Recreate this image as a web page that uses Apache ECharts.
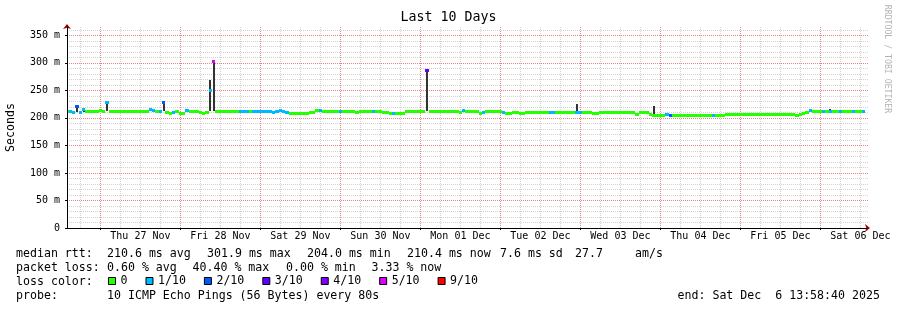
<!DOCTYPE html>
<html><head><meta charset="utf-8">
<script src="https://cdn.jsdelivr.net/npm/echarts@6/dist/echarts.min.js"></script>
<style>html,body{margin:0;padding:0;background:#fff}#c{width:897px;height:310px}</style>
</head><body><div id="c"></div>
<script>
// Time axis in hours since Wed 26 Nov 00:00
const startHour = 13.977778;   // Wed 26 Nov 13:58:40
const endHour = 253.977778;    // Sat 06 Dec 13:58:40
const firstPointHour = 14;     // one consolidated point per hour
const yMax = 365;

// median rtt (ms), one value per hour
const median = [
  212,211,209,220,209,215,212,212,212,212,
  213,212,228,212,212,212,212,212,212,212,
  212,212,212,212,212,216,213,212,212,227,
  209,208,210,211,208,208,214,211,211,211,
  209,208,209,249,302,212,212,212,212,212,
  212,212,212,212,212,212,212,212,211,212,
  212,212,209,212,213,212,209,208,208,208,
  208,208,208,209,210,213,214,212,212,212,
  212,212,212,212,212,212,212,210,212,212,
  212,212,212,212,212,210,210,208,208,208,
  208,208,211,212,212,212,212,212,286,212,
  212,212,212,212,212,212,212,212,210,213,
  212,212,212,212,208,210,212,212,212,212,
  212,210,208,208,210,210,208,208,210,210,
  210,210,210,210,210,210,210,210,210,210,
  210,210,210,210,210,210,210,210,208,208,
  210,210,210,210,210,210,210,210,210,210,
  210,206,210,210,210,206,205,205,205,205,
  206,205,204,204,204,205,205,205,205,205,
  205,205,205,205,205,204,204,204,206,206,
  206,206,206,206,206,206,206,206,206,206,
  206,206,206,206,206,206,206,206,206,204,
  206,208,210,213,212,212,212,212,212,212,
  212,212,212,212,212,212,212,212,212,211
];
// lost pings out of 10, one value per hour
const loss = [
  0,1,1,2,1,1,0,0,0,0,
  0,0,1,0,0,0,0,0,0,0,
  0,0,0,0,0,1,1,0,1,2,
  0,0,1,0,0,0,1,0,0,0,
  0,0,0,1,5,0,0,0,0,0,
  0,0,1,1,1,0,1,1,1,1,
  1,1,1,1,1,1,1,0,0,0,
  0,0,0,0,0,0,1,0,0,0,
  0,0,1,0,0,0,0,0,0,0,
  0,0,1,0,0,0,0,0,1,0,
  0,0,0,0,0,0,0,0,3,0,
  0,0,0,0,0,0,0,0,0,1,
  0,0,0,0,0,1,0,0,0,0,
  0,1,0,0,0,0,0,0,0,0,
  0,0,0,0,0,1,1,0,0,0,
  0,0,0,1,1,0,0,0,0,0,
  0,0,0,0,0,0,0,0,0,0,
  0,0,0,0,0,0,0,0,0,0,
  1,2,0,0,0,0,0,0,0,0,
  0,0,0,0,1,0,0,0,0,0,
  0,0,0,0,0,0,0,0,0,0,
  0,0,0,0,0,0,0,0,0,0,
  0,0,0,1,0,0,0,1,0,1,
  0,0,1,0,0,0,1,0,0,1
];
// smoke (ping spread) where visible
const smokeHour = [17, 19, 26, 43, 57, 58, 89, 122, 167, 190, 243];
const smokeLow  = [211, 210, 212, 212, 212, 212, 212, 212, 211, 205, 212];
const smokeHigh = [220, 216, 228, 227, 268, 302, 215, 287, 225, 221, 216];

const lossLevels = [0, 1, 2, 3, 4, 5, 9];
const lossNames = ['0', '1/10', '2/10', '3/10', '4/10', '5/10', '9/10'];
const lossColors = ['#26ff00', '#00b8ff', '#0059ff', '#5e00ff', '#7e00ff', '#dd00ff', '#ff0000'];

const dayLabelHours = [36, 60, 84, 108, 132, 156, 180, 204, 228, 252];
const dayLabels = ['Thu 27 Nov', 'Fri 28 Nov', 'Sat 29 Nov', 'Sun 30 Nov', 'Mon 01 Dec',
                   'Tue 02 Dec', 'Wed 03 Dec', 'Thu 04 Dec', 'Fri 05 Dec', 'Sat 06 Dec'];
const midnightHours = [24, 48, 72, 96, 120, 144, 168, 192, 216, 240];
const yLabelValues = [0, 50, 100, 150, 200, 250, 300, 350];
const yLabels = ['0', '50 m', '100 m', '150 m', '200 m', '250 m', '300 m', '350 m'];

const statsRtt = ['median rtt:', '210.6 ms avg', '301.9 ms max', '204.0 ms min', '210.4 ms now', '7.6 ms sd', '27.7', 'am/s'];
const statsLoss = ['packet loss:', '0.60 % avg', '40.40 % max', '0.00 % min', '3.33 % now'];
const probeText = ['probe:', '10 ICMP Echo Pings (56 Bytes) every 80s', 'end: Sat Dec  6 13:58:40 2025'];

// ---------- build ----------
const MONO = '"DejaVu Sans Mono", monospace';
const MAJOR = '#e88484', MINOR = '#d2d2d2';
const vGridHours = [];
for (let h = 18; h < endHour; h += 6) vGridHours.push([h, h % 24 === 0 ? 1 : 0]);
const hGridValues = [];
for (let v = 10; v < yMax; v += 10) hGridValues.push([v, v % 50 === 0 ? 1 : 0]);

function vgridItem(params, api) {
  const h = api.value(0);
  const t = api.coord([h, yMax]), b = api.coord([h, 0]);
  const x = Math.round(t[0]) + 0.5;
  return { type: 'line', z2: api.value(1) ? 2 : 1, shape: { x1: x, y1: t[1], x2: x, y2: b[1] },
    style: { stroke: api.value(1) ? MAJOR : MINOR, lineWidth: 1, lineDash: [1, 1] } };
}
function hgridItem(params, api) {
  const v = api.value(0);
  const l = api.coord([startHour, v]), r = api.coord([endHour, v]);
  const y = Math.round(l[1]) + 0.5;
  return { type: 'line', z2: api.value(1) ? 2 : 1, shape: { x1: l[0], y1: y, x2: r[0] + 2, y2: y },
    style: { stroke: api.value(1) ? MAJOR : MINOR, lineWidth: 1, lineDash: [1, 1] } };
}
function smokeItem(params, api) {
  const h = api.value(0);
  const a = api.coord([h - 0.3, api.value(2)]), b = api.coord([h + 0.3, api.value(1)]);
  const x0 = Math.round(a[0]), x1 = Math.max(Math.round(b[0]), x0 + 1);
  return { type: 'rect', shape: { x: x0, y: Math.round(a[1]), width: x1 - x0, height: Math.round(b[1]) - Math.round(a[1]) },
    style: { fill: '#333' } };
}
function medianItem(params, api) {
  const h = api.value(0), v = api.value(1);
  const a = api.coord([h - 0.5, v]), b = api.coord([h + 0.5, v]);
  const x0 = Math.round(a[0]), x1 = Math.round(b[0]);
  return { type: 'rect', shape: { x: x0, y: Math.round(a[1] - 1.5), width: x1 - x0, height: 3 },
    style: { fill: api.visual('color') } };
}

const series = [
  { type: 'custom', name: 'vgrid', silent: true, z: 1, renderItem: vgridItem, data: vGridHours, clip: true },
  { type: 'custom', name: 'hgrid', silent: true, z: 1, renderItem: hgridItem, data: hGridValues,
    encode: { x: -1, y: 0 } },
  { type: 'custom', name: 'smoke', silent: true, z: 2, renderItem: smokeItem, clip: true,
    data: smokeHour.map((h, k) => [h, smokeLow[k], smokeHigh[k]]) }
];
lossLevels.forEach((lv, k) => {
  const data = [];
  median.forEach((v, i) => { if (loss[i] === lv) data.push([firstPointHour + i, v]); });
  series.push({ type: 'custom', name: lossNames[k], z: 3, silent: true, clip: true,
    itemStyle: { color: lossColors[k] }, renderItem: medianItem, data });
});

function txt(x, y, s, extra) {
  return Object.assign({ type: 'text', x, y, silent: true,
    style: { text: s, font: '11.6px ' + MONO, fill: '#000', verticalAlign: 'middle' } }, extra || {});
}
const graphics = [
  txt(16, 254.3, statsRtt[0]), txt(107, 254.3, statsRtt[1]), txt(207, 254.3, statsRtt[2]),
  txt(307, 254.3, statsRtt[3]), txt(407, 254.3, statsRtt[4]), txt(500, 254.3, statsRtt[5]),
  txt(575, 254.3, statsRtt[6]), txt(635, 254.3, statsRtt[7]),
  txt(16, 268.3, statsLoss[0]), txt(107, 268.3, statsLoss[1]), txt(192.5, 268.3, statsLoss[2]),
  txt(286, 268.3, statsLoss[3]), txt(371.5, 268.3, statsLoss[4]),
  txt(16, 281.8, 'loss color:'),
  txt(16, 296.2, probeText[0]), txt(107, 296.2, probeText[1]), txt(677.5, 296.2, probeText[2]),
  { type: 'text', x: 887, y: 59, rotation: -Math.PI / 2, silent: true,
    style: { text: 'RRDTOOL / TOBI OETIKER', font: '8.2px ' + MONO, fill: '#b4b4b4', align: 'center', verticalAlign: 'middle' } }
];

const option = {
  animation: false,
  backgroundColor: '#fff',
  title: { text: 'Last 10 Days', left: 'center', top: 11, padding: 0,
    textStyle: { fontFamily: MONO, fontSize: 13.3, fontWeight: 'normal', color: '#000' } },
  grid: { left: 67, right: 30, top: 27, bottom: 82, containLabel: false, outerBoundsMode: 'none' },
  legend: { data: lossNames, left: 108, top: 275, padding: 0, itemGap: 18, itemWidth: 7, itemHeight: 7,
    icon: 'rect', selectedMode: false,
    itemStyle: { borderColor: '#000', borderWidth: 1 },
    textStyle: { fontFamily: MONO, fontSize: 11.6, color: '#000' } },
  xAxis: [
    { type: 'value', min: startHour, max: endHour, position: 'bottom', z: 5,
      axisLine: { show: true, onZero: false, lineStyle: { color: '#000', width: 1 } },
      axisTick: { show: true, length: 2, customValues: midnightHours, lineStyle: { color: '#000' } },
      splitLine: { show: false },
      axisLabel: { show: true, customValues: dayLabelHours, margin: 3, fontFamily: MONO, fontSize: 10, color: '#000',
        formatter: v => dayLabels[dayLabelHours.indexOf(v)] } },
    { type: 'value', min: startHour, max: endHour, position: 'bottom', z: 4,
      axisLine: { show: true, onZero: false, symbol: ['none', 'arrow'], symbolSize: [6, 5], symbolOffset: [0, 3],
        lineStyle: { color: '#a00000', width: 1 } },
      axisTick: { show: false }, axisLabel: { show: false }, splitLine: { show: false } }
  ],
  yAxis: [
    { type: 'value', min: 0, max: yMax, position: 'left', z: 5,
      name: 'Seconds', nameLocation: 'middle', nameRotate: 90, nameGap: 50,
      nameTextStyle: { fontFamily: MONO, fontSize: 11.6, color: '#000' },
      axisLine: { show: true, onZero: false, lineStyle: { color: '#000', width: 1 } },
      axisTick: { show: true, length: 2, customValues: yLabelValues, lineStyle: { color: '#000' } },
      splitLine: { show: false },
      axisLabel: { show: true, customValues: yLabelValues, margin: 7, fontFamily: MONO, fontSize: 10, color: '#000',
        formatter: v => yLabels[yLabelValues.indexOf(v)] } },
    { type: 'value', min: 0, max: yMax, position: 'left', z: 4,
      axisLine: { show: true, onZero: false, symbol: ['none', 'arrow'], symbolSize: [6, 5], symbolOffset: [0, 3],
        lineStyle: { color: '#a00000', width: 1 } },
      axisTick: { show: false }, axisLabel: { show: false }, splitLine: { show: false } }
  ],
  graphic: { elements: graphics },
  series
};
const chart = echarts.init(document.getElementById('c'), null, { renderer: 'canvas' });
chart.setOption(option);
</script>
</body></html>
